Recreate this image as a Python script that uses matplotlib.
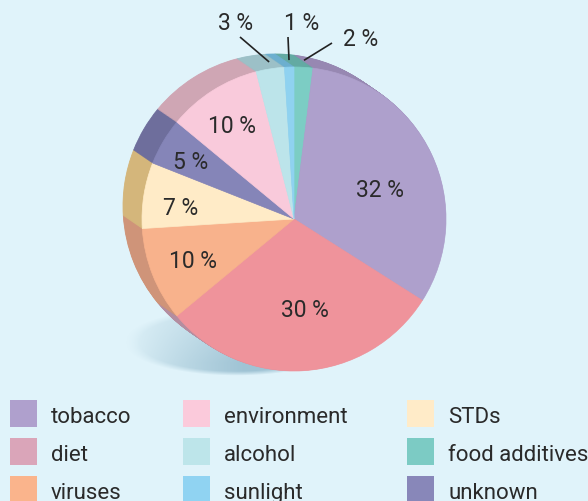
import numpy as np
import matplotlib
matplotlib.use("Agg")
import matplotlib.pyplot as plt
from matplotlib.patches import Rectangle

# ---- data -------------------------------------------------------------
slice_names = ["food additives", "tobacco", "diet", "viruses", "STDs",
               "unknown", "environment", "alcohol", "sunlight"]
slice_values = [2, 32, 30, 10, 7, 5, 10, 3, 1]
face_colors = ["#7ccdc4", "#aea0cc", "#ef939b", "#f8b28c", "#ffebc7",
               "#8585b8", "#f9cadb", "#bce4ea", "#8fd2f0"]
side_colors = ["#63aaa3", "#9788b2", "#b48da0", "#cf9479", "#d4b67b",
               "#6e6e9c", "#cfa6b4", "#9cc0c7", "#6cafcf"]

legend_labels = ["tobacco", "diet", "viruses",
                 "environment", "alcohol", "sunlight",
                 "STDs", "food additives", "unknown"]
legend_colors = ["#afa0cd", "#daa5b9", "#fab48c",
                 "#fbcadb", "#bde5ea", "#90d3f2",
                 "#ffebc8", "#7ccbc4", "#8887b9"]

# inside labels: radius fraction and angular nudge (deg) per slice
inside_r = [None, 0.60, 0.60, 0.72, 0.75, 0.78, 0.74, None, None]
inside_nudge = [0, -6, 3.5, 0.5, 3, 1.5, 1, 0, 0]
# outside labels: text anchor (pixels from top-left) and leader start
outside_text = {7: (236, 24), 8: (302, 24), 0: (361, 40)}
outside_lead = {7: (240, 38), 8: (288, 38), 0: (332, 44)}

W, H = 588, 502
BG = "#e0f3fa"
TXT = "#2a2a2a"

fig = plt.figure(figsize=(W / 100, H / 100), dpi=100, facecolor=BG)
ax = fig.add_axes([0, 0, 1, 1])
ax.set_facecolor(BG)


def Y(y):
    return H - y


cx, cy, R = 294, Y(220), 152
dx, dy = -19, 13  # depth of the disc (towards upper left)

# ---- soft floor shadow ------------------------------------------------
sx0, sx1, sy0, sy1 = 110, 380, 295, 392
xs = np.linspace(sx0, sx1, 270)
ys = np.linspace(sy0, sy1, 97)
XX, YY = np.meshgrid(xs, ys)
d = ((XX - 236) / 112.0) ** 2 + ((YY - 343) / 34.0) ** 2
edge = np.clip((1 - d) * 4.0, 0, 1)
ramp = np.clip((XX - 124) / 120.0, 0, 1) ** 0.8
vert = np.clip((YY - 306) / 58.0, 0, 1) ** 0.7
alpha = edge * ramp * (0.35 + 0.65 * vert) * 0.9
shadow = np.zeros(XX.shape + (4,))
shadow[..., 0] = 0x98 / 255
shadow[..., 1] = 0xbe / 255
shadow[..., 2] = 0xd0 / 255
shadow[..., 3] = np.clip(alpha, 0, 1)
ax.imshow(shadow, extent=(sx0, sx1, Y(sy1), Y(sy0)), origin="upper",
          interpolation="bilinear", zorder=1)

# ---- disc side (stacked copies from back to front) ---------------------
steps = 26
for i in range(steps, 0, -1):
    t = i / steps
    wedges, _ = ax.pie(slice_values, colors=side_colors, startangle=90,
                       counterclock=False, radius=R,
                       center=(cx + dx * t, cy + dy * t),
                       wedgeprops=dict(linewidth=0.6), frame=True)
    for w in wedges:
        w.set_edgecolor(w.get_facecolor())
        w.set_zorder(2)

# ---- top face ----------------------------------------------------------
wedges, _ = ax.pie(slice_values, colors=face_colors, startangle=90,
                   counterclock=False, radius=R, center=(cx, cy),
                   wedgeprops=dict(linewidth=0.5), frame=True)
for w in wedges:
    w.set_edgecolor(w.get_facecolor())
    w.set_zorder(3)

# ---- value labels ------------------------------------------------------
label_font = ["Roboto", "DejaVu Sans"]
total = float(sum(slice_values))
start = 90.0
for k, v in enumerate(slice_values):
    span = 360.0 * v / total
    mid_deg = start - span / 2
    start -= span
    txt = f"{v} %"
    if inside_r[k] is not None:
        a = np.deg2rad(mid_deg + inside_nudge[k])
        r = inside_r[k] * R
        ax.text(cx + r * np.cos(a), cy + r * np.sin(a), txt,
                ha="center", va="center", fontsize=16.5, color=TXT,
                family=label_font, zorder=5)
    else:
        a = np.deg2rad(mid_deg)
        ex, ey = cx + 159 * np.cos(a), cy + 159 * np.sin(a)
        lx, ly = outside_lead[k]
        ax.plot([lx, ex], [Y(ly), ey], color="#222222", lw=1.2,
                solid_capstyle="butt", zorder=5)
        tx, ty = outside_text[k]
        ax.text(tx, Y(ty), txt, ha="center", va="center", fontsize=16.5,
                color=TXT, family=label_font, zorder=5)

# ---- legend ------------------------------------------------------------
col_x = [10, 183, 407]
row_y = [401, 439, 477]
for j, (lab, col) in enumerate(zip(legend_labels, legend_colors)):
    c, r = divmod(j, 3)
    x0, y0 = col_x[c], row_y[r]
    ax.add_patch(Rectangle((x0, Y(y0 + 27)), 27, 27, facecolor=col,
                           edgecolor="none", zorder=5))
    ax.text(x0 + 41, Y(y0 + 22), lab, ha="left", va="baseline",
            fontsize=16, color=TXT, family=label_font, zorder=5)

ax.set_xlim(0, W)
ax.set_ylim(0, H)
ax.set_aspect("auto")
ax.set_position([0, 0, 1, 1])
ax.axis("off")

fig.savefig("out.png", dpi=100, facecolor=BG)
